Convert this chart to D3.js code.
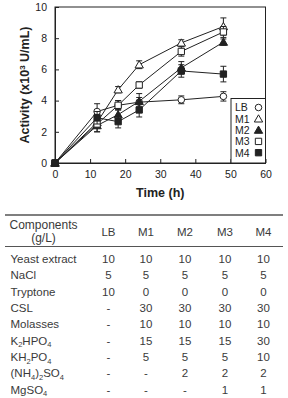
<!DOCTYPE html>
<html>
<head>
<meta charset="utf-8">
<script src="https://cdn.jsdelivr.net/npm/d3@7"></script>
<style>
  body { margin: 0; background: #fff; }
  text { font-family: "Liberation Sans", Arial, sans-serif; }
</style>
</head>
<body>
<svg id="fig" width="288" height="398"></svg>
<script>
// chart data
var times = [0, 12, 18, 24, 36, 48];
var seriesNames = ['LB', 'M1', 'M2', 'M3', 'M4'];
var lbVals = [0, 3.3, 3.7, 3.9, 4.05, 4.27];
var m1Vals = [0, 2.6, 4.7, 6.3, 7.7, 8.75];
var m2Vals = [0, 2.4, 3.1, 3.95, 6.1, 7.75];
var m3Vals = [0, 2.5, 3.7, 5.0, 7.15, 8.4];
var m4Vals = [0, 2.9, 2.65, 3.4, 5.9, 5.7];
var lbErr = [0, 0.5, 0.3, 0.3, 0.25, 0.3];
var m1Err = [0, 0.3, 0.2, 0.25, 0.2, 0.55];
var m2Err = [0, 0.4, 0.35, 0.5, 0.4, 0.2];
var m3Err = [0, 0.5, 0.3, 0.2, 0.3, 0.35];
var m4Err = [0, 0.4, 0.4, 0.45, 0.4, 0.5];
var xTicks = [0, 10, 20, 30, 40, 50, 60];
var yTicks = [0, 2, 4, 6, 8, 10];

// table data
var colHeads = ['LB', 'M1', 'M2', 'M3', 'M4'];
var rowLabels = [
  [['Yeast extract']],
  [['NaCl']],
  [['Tryptone']],
  [['CSL']],
  [['Molasses']],
  [['K'], ['2', 'sub'], ['HPO'], ['4', 'sub']],
  [['KH'], ['2', 'sub'], ['PO'], ['4', 'sub']],
  [['(NH'], ['4', 'sub'], [')'], ['2', 'sub'], ['SO'], ['4', 'sub']],
  [['MgSO'], ['4', 'sub']]
];
var lbCol = ['10', '5', '10', '-', '-', '-', '-', '-', '-'];
var m1Col = ['10', '5', '0', '30', '10', '15', '5', '-', '-'];
var m2Col = ['10', '5', '0', '30', '10', '15', '5', '2', '-'];
var m3Col = ['10', '5', '0', '30', '10', '15', '5', '2', '1'];
var m4Col = ['10', '5', '0', '30', '10', '30', '10', '2', '1'];

var svg = d3.select('#fig');
var ink = '#222';

var x = d3.scaleLinear().domain([0, 60]).range([55, 265.5]);
var y = d3.scaleLinear().domain([0, 10]).range([163, 7]);

var plot = svg.append('g');

// frame
plot.append('rect')
    .attr('x', x(0)).attr('y', y(10))
    .attr('width', x(60) - x(0)).attr('height', y(0) - y(10))
    .attr('fill', 'none').attr('stroke', ink).attr('stroke-width', 1);

// axes with inward ticks
var xAxis = plot.append('g')
    .attr('transform', 'translate(0,' + y(0) + ')')
    .call(d3.axisBottom(x).tickValues(xTicks).tickSizeInner(-4).tickSizeOuter(0).tickPadding(8));
var yAxis = plot.append('g')
    .attr('transform', 'translate(' + x(0) + ',0)')
    .call(d3.axisLeft(y).tickValues(yTicks).tickSizeInner(-4).tickSizeOuter(0).tickPadding(8));
[xAxis, yAxis].forEach(function (a) {
    a.select('.domain').attr('stroke', ink);
    a.selectAll('line').attr('stroke', ink);
    a.selectAll('text').attr('fill', ink).style('font-size', '10.5px')
        .style('font-family', '"Liberation Sans", Arial, sans-serif');
});

plot.append('text')
    .attr('x', (x(0) + x(60)) / 2).attr('y', 197)
    .attr('text-anchor', 'middle')
    .style('font-size', '12.5px').style('font-weight', 'bold').attr('fill', ink)
    .text('Time (h)');

var yl = plot.append('text')
    .attr('transform', 'translate(29,' + ((y(0) + y(10)) / 2) + ') rotate(-90)')
    .attr('text-anchor', 'middle')
    .style('font-size', '12.5px').style('font-weight', 'bold').attr('fill', ink);
yl.append('tspan').text('Activity (x10');
yl.append('tspan').attr('dy', -4).style('font-size', '8px').text('3');
yl.append('tspan').attr('dy', 4).text(' U/mL)');

var allVals = [lbVals, m1Vals, m2Vals, m3Vals, m4Vals];
var allErr = [lbErr, m1Err, m2Err, m3Err, m4Err];
var shapes = ['circle', 'triangle', 'triangle', 'square', 'square'];
var filled = [false, false, true, false, true];

function drawMarker(g, shape, fill, cx, cy) {
    var sym;
    if (shape === 'circle') sym = d3.symbol().type(d3.symbolCircle).size(34);
    else if (shape === 'triangle') sym = d3.symbol().type(d3.symbolTriangle).size(30);
    else sym = d3.symbol().type(d3.symbolSquare).size(40);
    g.append('path')
        .attr('d', sym())
        .attr('transform', 'translate(' + cx + ',' + (shape === 'triangle' ? cy + 0.8 : cy) + ')')
        .attr('fill', fill ? ink : '#fff')
        .attr('stroke', ink).attr('stroke-width', 1);
}

var line = d3.line().x(function (d) { return x(d.t); }).y(function (d) { return y(d.v); });

seriesNames.forEach(function (name, i) {
    var pts = times.map(function (t, j) { return { t: t, v: allVals[i][j], e: allErr[i][j] }; });
    var g = plot.append('g');
    g.append('path').datum(pts).attr('d', line)
        .attr('fill', 'none').attr('stroke', ink).attr('stroke-width', 1);
    pts.forEach(function (p) {
        if (p.e > 0) {
            var px = x(p.t);
            g.append('line').attr('x1', px).attr('x2', px)
                .attr('y1', y(p.v - p.e)).attr('y2', y(p.v + p.e))
                .attr('stroke', ink).attr('stroke-width', 1);
            [p.v - p.e, p.v + p.e].forEach(function (ev) {
                g.append('line').attr('x1', px - 3).attr('x2', px + 3)
                    .attr('y1', y(ev)).attr('y2', y(ev))
                    .attr('stroke', ink).attr('stroke-width', 1);
            });
        }
    });
    pts.forEach(function (p) {
        drawMarker(g, shapes[i], p.t === 0 ? true : filled[i], x(p.t), y(p.v));
    });
});

// legend box
var lg = plot.append('g');
lg.append('rect')
    .attr('x', 231).attr('y', 98.5)
    .attr('width', x(60) - 231).attr('height', y(0) - 98.5)
    .attr('fill', '#fff').attr('stroke', ink).attr('stroke-width', 1);
seriesNames.forEach(function (name, i) {
    var ly = 107.5 + i * 11.3;
    lg.append('text').attr('x', 235).attr('y', ly + 3.8)
        .style('font-size', '10.5px').attr('fill', ink).text(name);
    drawMarker(lg, shapes[i], filled[i], 258.5, ly);
});

// table
var tbl = svg.append('g');
var tc = '#3a3a3a';
var fs = '11.5px';
var colX = [108.5, 146, 185, 225, 263.5];
var colData = [lbCol, m1Col, m2Col, m3Col, m4Col];
var rowY = d3.range(rowLabels.length).map(function (i) { return 263 + i * 16.35; });

tbl.append('line').attr('x1', 5).attr('x2', 283).attr('y1', 215).attr('y2', 215)
    .attr('stroke', '#555').attr('stroke-width', 1.5);
tbl.append('line').attr('x1', 5).attr('x2', 283).attr('y1', 246.5).attr('y2', 246.5)
    .attr('stroke', '#555').attr('stroke-width', 1);

tbl.append('text').attr('x', 43.5).attr('y', 228.5).attr('text-anchor', 'middle')
    .style('font-size', '12px').attr('fill', tc).text('Components');
tbl.append('text').attr('x', 43.5).attr('y', 242).attr('text-anchor', 'middle')
    .style('font-size', '12px').attr('fill', tc).text('(g/L)');
colHeads.forEach(function (h, i) {
    tbl.append('text').attr('x', colX[i]).attr('y', 235.5).attr('text-anchor', 'middle')
        .style('font-size', fs).attr('fill', tc).text(h);
});

rowLabels.forEach(function (parts, r) {
    var t = tbl.append('text').attr('x', 10.5).attr('y', rowY[r])
        .style('font-size', fs).attr('fill', tc);
    var shifted = false;
    parts.forEach(function (p) {
        var sp = t.append('tspan').text(p[0]);
        if (p[1] === 'sub') {
            sp.style('font-size', '7.5px').attr('dy', shifted ? 0 : 2.5);
            shifted = true;
        } else if (shifted) {
            sp.attr('dy', -2.5);
            shifted = false;
        }
    });
    colData.forEach(function (col, c) {
        tbl.append('text').attr('x', colX[c]).attr('y', rowY[r]).attr('text-anchor', 'middle')
            .style('font-size', fs).attr('fill', tc).text(col[r]);
    });
});
</script>
</body>
</html>
